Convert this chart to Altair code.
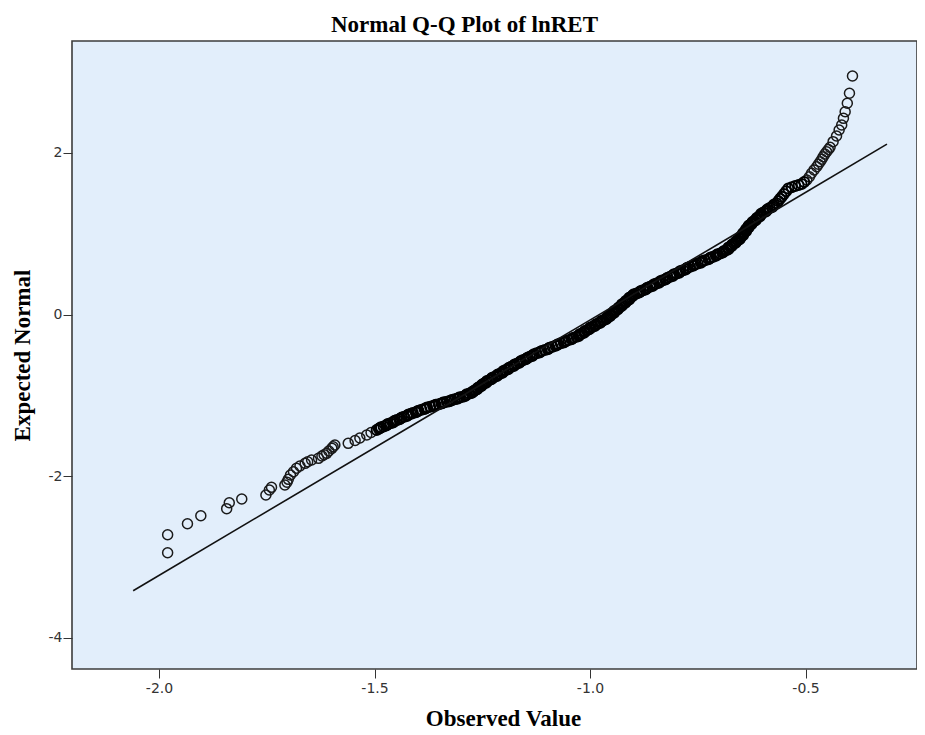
import altair as alt
import pandas as pd

lower_tail = [
    (-1.980, -2.948), (-1.980, -2.725), (-1.934, -2.589), (-1.903, -2.490),
    (-1.843, -2.403), (-1.837, -2.329), (-1.808, -2.283), (-1.752, -2.234),
    (-1.744, -2.172), (-1.739, -2.139), (-1.708, -2.110), (-1.703, -2.075),
    (-1.700, -2.040), (-1.695, -1.986), (-1.688, -1.946), (-1.681, -1.903),
    (-1.673, -1.875), (-1.661, -1.842), (-1.655, -1.822), (-1.646, -1.801),
    (-1.630, -1.780), (-1.622, -1.751), (-1.617, -1.735), (-1.611, -1.718),
    (-1.606, -1.689), (-1.599, -1.656), (-1.596, -1.636), (-1.592, -1.615),
    (-1.561, -1.594), (-1.545, -1.559), (-1.534, -1.528), (-1.518, -1.491),
    (-1.508, -1.460),
]

band = [
    (-1.495, -1.429), (-1.490, -1.414),
    (-1.487, -1.405), (-1.479, -1.385), (-1.471, -1.365), (-1.463, -1.345), (-1.455, -1.325),
    (-1.448, -1.306), (-1.440, -1.286), (-1.431, -1.266), (-1.423, -1.246), (-1.415, -1.228),
    (-1.411, -1.219), (-1.401, -1.200), (-1.391, -1.180), (-1.381, -1.160),
    (-1.371, -1.141), (-1.361, -1.125), (-1.351, -1.110), (-1.342, -1.095),
    (-1.332, -1.079), (-1.323, -1.064), (-1.314, -1.049), (-1.305, -1.033),
    (-1.295, -1.017), (-1.288, -0.998), (-1.280, -0.979), (-1.274, -0.962),
    (-1.271, -0.955), (-1.266, -0.935), (-1.261, -0.915), (-1.256, -0.895), (-1.251, -0.875), (-1.246, -0.855),
    (-1.240, -0.832), (-1.234, -0.812), (-1.228, -0.792), (-1.222, -0.772), (-1.215, -0.752), (-1.209, -0.732),
    (-1.202, -0.708), (-1.196, -0.688), (-1.189, -0.668), (-1.183, -0.648), (-1.176, -0.628), (-1.170, -0.608),
    (-1.162, -0.584), (-1.155, -0.564), (-1.147, -0.544), (-1.140, -0.524), (-1.133, -0.504),
    (-1.124, -0.480), (-1.115, -0.460), (-1.105, -0.440), (-1.096, -0.420), (-1.087, -0.400),
    (-1.077, -0.377), (-1.068, -0.357), (-1.059, -0.337), (-1.050, -0.317), (-1.041, -0.297),
    (-1.031, -0.275), (-1.025, -0.255), (-1.019, -0.235), (-1.013, -0.215), (-1.007, -0.195),
    (-1.000, -0.171), (-0.994, -0.151), (-0.987, -0.131), (-0.981, -0.111), (-0.975, -0.091), (-0.969, -0.071),
    (-0.961, -0.047), (-0.957, -0.027), (-0.953, -0.007), (-0.948, 0.013), (-0.944, 0.033), (-0.940, 0.053), (-0.935, 0.073),
    (-0.930, 0.097), (-0.926, 0.117), (-0.922, 0.137), (-0.917, 0.157), (-0.913, 0.177), (-0.909, 0.197), (-0.905, 0.217),
    (-0.900, 0.241), (-0.892, 0.261), (-0.884, 0.281), (-0.877, 0.301), (-0.869, 0.321),
    (-0.861, 0.344), (-0.853, 0.364), (-0.846, 0.384), (-0.838, 0.404), (-0.831, 0.424), (-0.823, 0.444),
    (-0.814, 0.468), (-0.807, 0.488), (-0.799, 0.508), (-0.792, 0.528), (-0.784, 0.548), (-0.777, 0.568),
    (-0.768, 0.592), (-0.759, 0.612), (-0.750, 0.632), (-0.741, 0.652), (-0.733, 0.672),
    (-0.722, 0.696), (-0.714, 0.716), (-0.706, 0.736), (-0.698, 0.756), (-0.691, 0.776),
    (-0.683, 0.798), (-0.679, 0.818), (-0.675, 0.838), (-0.671, 0.858), (-0.666, 0.878), (-0.662, 0.898), (-0.657, 0.918),
    (-0.652, 0.943), (-0.649, 0.968), (-0.645, 0.993), (-0.642, 1.018), (-0.638, 1.043), (-0.635, 1.068), (-0.632, 1.088),
    (-0.629, 1.108), (-0.624, 1.133), (-0.619, 1.158), (-0.614, 1.183), (-0.609, 1.208), (-0.604, 1.233),
    (-0.598, 1.262), (-0.590, 1.290), (-0.583, 1.318), (-0.575, 1.346),
    (-0.567, 1.376), (-0.563, 1.405), (-0.559, 1.432),
    (-0.555, 1.458), (-0.550, 1.492), (-0.545, 1.526),
    (-0.540, 1.560), (-0.532, 1.575), (-0.524, 1.590), (-0.516, 1.602), (-0.509, 1.615), (-0.503, 1.640),
]

# further overlapping points hidden inside the dense band
band_fill = [
    (-1.485, -1.395), (-1.473, -1.375), (-1.469, -1.355), (-1.457, -1.335), (-1.453, -1.316),
    (-1.442, -1.296), (-1.437, -1.276), (-1.425, -1.256), (-1.421, -1.237), (-1.404, -1.210),
    (-1.398, -1.190), (-1.384, -1.170), (-1.378, -1.151), (-1.364, -1.133), (-1.358, -1.118),
    (-1.345, -1.102), (-1.339, -1.087), (-1.326, -1.072), (-1.320, -1.057), (-1.308, -1.041),
    (-1.302, -1.025), (-1.290, -1.008), (-1.286, -0.988), (-1.275, -0.970), (-1.270, -0.945),
    (-1.262, -0.925), (-1.260, -0.905), (-1.252, -0.885), (-1.250, -0.865), (-1.241, -0.843),
    (-1.239, -0.822), (-1.229, -0.802), (-1.227, -0.782), (-1.216, -0.762), (-1.214, -0.742),
    (-1.203, -0.720), (-1.201, -0.698), (-1.190, -0.678), (-1.188, -0.658), (-1.177, -0.638),
    (-1.175, -0.618), (-1.164, -0.596), (-1.160, -0.574), (-1.149, -0.554), (-1.145, -0.534),
    (-1.134, -0.514), (-1.130, -0.492), (-1.117, -0.470), (-1.112, -0.450), (-1.098, -0.430),
    (-1.094, -0.410), (-1.080, -0.388), (-1.074, -0.367), (-1.061, -0.347), (-1.056, -0.327),
    (-1.043, -0.307), (-1.038, -0.286), (-1.026, -0.265), (-1.024, -0.245), (-1.014, -0.225),
    (-1.012, -0.205), (-1.002, -0.183), (-0.999, -0.161), (-0.989, -0.141), (-0.986, -0.121),
    (-0.976, -0.101), (-0.974, -0.081), (-0.963, -0.059), (-0.961, -0.037), (-0.953, -0.017),
    (-0.952, 0.003), (-0.944, 0.023), (-0.944, 0.043), (-0.936, 0.063), (-0.934, 0.085),
    (-0.926, 0.107), (-0.926, 0.127), (-0.918, 0.147), (-0.917, 0.167), (-0.909, 0.187),
    (-0.909, 0.207), (-0.901, 0.229), (-0.898, 0.251), (-0.886, 0.271), (-0.882, 0.291),
    (-0.871, 0.311), (-0.867, 0.332), (-0.855, 0.354), (-0.851, 0.374), (-0.840, 0.394),
    (-0.836, 0.414), (-0.825, 0.434), (-0.820, 0.456), (-0.808, 0.478), (-0.805, 0.498),
    (-0.793, 0.518), (-0.790, 0.538), (-0.778, 0.558), (-0.774, 0.580), (-0.761, 0.602),
    (-0.756, 0.622), (-0.743, 0.642), (-0.739, 0.662), (-0.725, 0.684), (-0.720, 0.706),
    (-0.708, 0.726), (-0.704, 0.746), (-0.692, 0.766), (-0.689, 0.787), (-0.679, 0.808),
    (-0.679, 0.828), (-0.671, 0.848), (-0.670, 0.868), (-0.662, 0.888), (-0.661, 0.908),
    (-0.653, 0.930), (-0.652, 0.955), (-0.645, 0.980), (-0.645, 1.005), (-0.638, 1.030),
    (-0.638, 1.055), (-0.632, 1.078), (-0.632, 1.098), (-0.625, 1.120), (-0.623, 1.145),
    (-0.615, 1.170), (-0.613, 1.195), (-0.605, 1.220), (-0.603, 1.247), (-0.592, 1.276),
    (-0.588, 1.304), (-0.577, 1.332), (-0.573, 1.361),
]

upper_tail = [
    (-0.497, 1.665), (-0.491, 1.705), (-0.486, 1.748), (-0.480, 1.790), (-0.474, 1.829),
    (-0.470, 1.860), (-0.466, 1.891), (-0.462, 1.922), (-0.459, 1.953), (-0.455, 1.985),
    (-0.451, 2.015), (-0.447, 2.042), (-0.443, 2.069), (-0.436, 2.139), (-0.428, 2.209),
    (-0.422, 2.283), (-0.416, 2.345), (-0.412, 2.428), (-0.408, 2.510), (-0.403, 2.614),
    (-0.398, 2.738), (-0.391, 2.952),
]

# reference line end points
line_obs = [-2.060, -0.311]
line_exp = [-3.418, 2.108]

x_ticks = [-2.0, -1.5, -1.0, -0.5]
y_ticks = [-4, -2, 0, 2]
x_domain = [-2.2019, -0.2413]
y_domain = [-4.387, 3.385]

tails = pd.DataFrame(lower_tail + upper_tail, columns=["obs", "exp"])
dense = pd.DataFrame(band + band_fill, columns=["obs", "exp"])
line_df = pd.DataFrame({"obs": line_obs, "exp": line_exp})

MINUS_FIX = "replace(datum.label, '\u2212', '-')"
SERIF = "Liberation Serif"
SANS = "DejaVu Sans"

x_scale = alt.Scale(domain=x_domain, nice=False, zero=False)
y_scale = alt.Scale(domain=y_domain, nice=False, zero=False)

x_axis = alt.Axis(
    values=x_ticks, format=".1f", labelExpr=MINUS_FIX, grid=False, domain=False,
    tickSize=9, tickColor="#333333", tickWidth=1,
    labelFont=SANS, labelFontSize=14, labelColor="#333333", labelPadding=3,
    titleFont=SERIF, titleFontSize=23, titleFontWeight="bold", titleColor="#000000",
    titleX=431, titleY=56, titleAlign="center", titleBaseline="alphabetic",
)
y_axis = alt.Axis(
    values=y_ticks, format="d", labelExpr=MINUS_FIX, grid=False, domain=False,
    tickSize=9, tickColor="#333333", tickWidth=1,
    labelFont=SANS, labelFontSize=14, labelColor="#333333", labelPadding=1,
    titleFont=SERIF, titleFontSize=23, titleFontWeight="bold", titleColor="#000000",
    titleAngle=270, titleX=-50, titleY=314, titleAlign="center", titleBaseline="middle",
)

X = alt.X("obs:Q", scale=x_scale, axis=x_axis, title="Observed Value")
Y = alt.Y("exp:Q", scale=y_scale, axis=y_axis, title="Expected Normal")

tail_pts = alt.Chart(tails).mark_point(
    shape="circle", filled=False, size=100, stroke="#1a1a1a", strokeWidth=1.5, opacity=1
).encode(x=X, y=Y)

band_pts = alt.Chart(dense).mark_point(
    shape="circle", filled=False, size=100, stroke="#000000", strokeWidth=2.0, opacity=1
).encode(x=X, y=Y)

ref_line = alt.Chart(line_df).mark_line(color="#111111", strokeWidth=1.6).encode(x=X, y=Y)

chart = alt.layer(tail_pts, band_pts, ref_line).properties(
    width=845,
    height=628,
    autosize="none",
    padding={"left": 64, "top": 33, "right": 0, "bottom": 60},
    background="#ffffff",
    title=alt.TitleParams(
        "Normal Q-Q Plot of lnRET", font=SERIF, fontSize=23, fontWeight="bold",
        color="#000000", anchor="middle", dx=-30, offset=4,
    ),
).configure_view(
    fill="#E2EEFB", stroke="#3c3c3c", strokeWidth=1.6
)

chart.save("out.html", embed_options={"renderer": "svg", "actions": False})
